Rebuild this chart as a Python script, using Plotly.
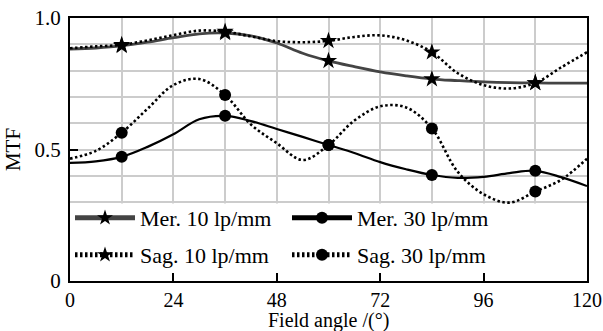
import plotly.graph_objects as go

field = [0, 6, 12, 18, 24, 30, 36, 42, 48, 54, 60, 66, 72, 78, 84, 90, 96, 102, 108, 114, 120]
marker_x = [12, 36, 60, 84, 108]

mer10 = [0.882, 0.886, 0.894, 0.908, 0.925, 0.940, 0.943, 0.932, 0.905, 0.866, 0.837, 0.815,
         0.795, 0.780, 0.768, 0.762, 0.757, 0.754, 0.753, 0.752, 0.752]
sag10 = [0.885, 0.892, 0.898, 0.915, 0.935, 0.952, 0.948, 0.930, 0.912, 0.908, 0.913, 0.928,
         0.934, 0.915, 0.870, 0.790, 0.745, 0.732, 0.753, 0.812, 0.870]
mer30 = [0.449, 0.455, 0.472, 0.510, 0.558, 0.615, 0.628, 0.608, 0.578, 0.548, 0.517, 0.487,
         0.452, 0.425, 0.403, 0.392, 0.396, 0.410, 0.419, 0.395, 0.361]
sag30 = [0.465, 0.495, 0.564, 0.655, 0.745, 0.768, 0.707, 0.595, 0.524, 0.460, 0.517, 0.610,
         0.664, 0.660, 0.580, 0.415, 0.330, 0.298, 0.340, 0.385, 0.465]

names = ["Mer. 10 lp/mm", "Mer. 30 lp/mm", "Sag. 10 lp/mm", "Sag. 30 lp/mm"]
x_title = "Field angle /(°)"
y_title = "MTF"

FONT = "Liberation Serif"

def sizes(s):
    return [s if x in marker_x else 0 for x in field]

fig = go.Figure()
specs = [
    (names[0], mer10, "#444444", 2.8, "solid", "star", 13, "legend"),
    (names[1], mer30, "black", 2.2, "solid", "circle", 12, "legend"),
    (names[2], sag10, "black", 2.6, "2.5px,2.5px", "star", 13, "legend2"),
    (names[3], sag30, "black", 2.6, "2.5px,2.5px", "circle", 12, "legend2"),
]
for name, ys, col, lw, dash, sym, ms, lg in specs:
    fig.add_trace(go.Scatter(
        x=field, y=ys, name=name, mode="lines+markers",
        line=dict(color=col, width=lw, dash=dash, shape="spline", smoothing=1.0),
        marker=dict(symbol=sym, size=sizes(ms), color="black", opacity=1, line=dict(width=0)),
        legend=lg,
    ))

# white band under the legend (covers gridlines)
fig.add_shape(type="rect", xref="x", yref="y", x0=0, x1=120, y0=0, y1=0.295,
              fillcolor="white", line=dict(width=0), layer="between")

# x-axis title as annotation (precise placement at the bottom edge)
fig.add_annotation(text=x_title, xref="paper", yref="paper", x=0.5, y=(281 - 333) / 263,
                   xanchor="center", yanchor="bottom", showarrow=False, borderpad=0,
                   font=dict(family=FONT, size=20, color="black"))

legend_common = dict(
    orientation="h", xanchor="left", yanchor="middle",
    font=dict(family=FONT, size=22, color="black"),
    bgcolor="rgba(0,0,0,0)", itemwidth=60, itemsizing="constant",
    entrywidth=142, entrywidthmode="pixels",
)

fig.update_layout(
    width=603, height=331,
    margin=dict(l=70, r=16, t=18, b=50, autoexpand=False),
    paper_bgcolor="white", plot_bgcolor="white",
    font=dict(family=FONT, size=21, color="black"),
    legend=dict(x=0.0, y=(281 - 218) / 263, **legend_common),
    legend2=dict(x=0.0, y=(281 - 255) / 263, **legend_common),
    xaxis=dict(
        range=[0, 120], tickvals=[0, 24, 48, 72, 96, 120], automargin=False,
        ticks="inside", ticklen=8, tickwidth=2, tickcolor="black",
        showline=True, linecolor="black", linewidth=2, mirror=True,
        showgrid=True, gridcolor="#cccccc", gridwidth=2,
        minor=dict(dtick=12, showgrid=True, gridcolor="#cccccc", gridwidth=2, ticks=""),
        zeroline=False,
        tickfont=dict(family=FONT, size=20),
    ),
    yaxis=dict(
        range=[0, 1], tickvals=[0, 0.5, 1.0], ticktext=["0", "0.5", "1.0"], automargin=False,
        ticks="inside", ticklen=8, tickwidth=2, tickcolor="black",
        showline=True, linecolor="black", linewidth=2, mirror=True,
        showgrid=True, gridcolor="#cccccc", gridwidth=2,
        minor=dict(dtick=0.1, showgrid=True, gridcolor="#cccccc", gridwidth=2, ticks=""),
        zeroline=False, ticklabelstandoff=3,
        title=dict(text=y_title, font=dict(family=FONT, size=21), standoff=8),
        tickfont=dict(family=FONT, size=21),
    ),
)

fig.write_html("out.html", config={"displayModeBar": False},
               post_script="document.body.style.margin='0';")
